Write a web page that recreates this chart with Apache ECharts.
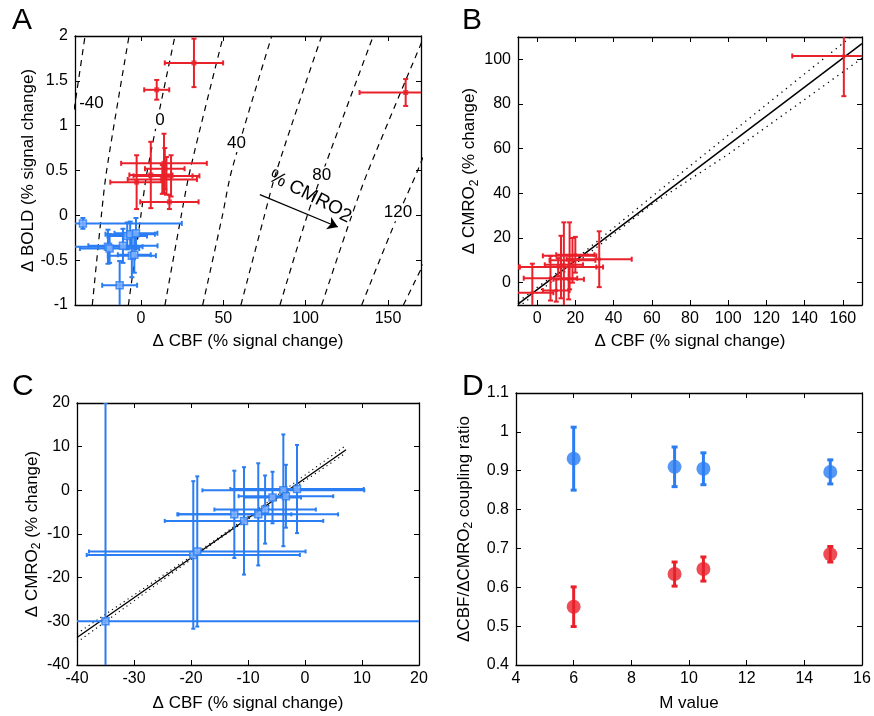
<!DOCTYPE html>
<html>
<head>
<meta charset="utf-8">
<script src="https://cdn.jsdelivr.net/npm/echarts@6/dist/echarts.min.js"></script>
<style>
  html, body { margin: 0; padding: 0; background: #fff; }
  #chart { width: 874px; height: 716px; }
</style>
</head>
<body>
<div id="chart"></div>
<script>
// ---- panel A: [dCBF, dBOLD, cbfErr, boldErr]
const aRed = [
  [32.2, 1.70, 17.7, 0.27],
  [9.6, 1.40, 7.6, 0.11],
  [160.7, 1.37, 28, 0.15],
  [-2.6, 0.37, 16, 0.30],
  [6.0, 0.45, 13, 0.37],
  [14.0, 0.58, 26, 0.33],
  [14.5, 0.52, 12, 0.23],
  [15.5, 0.44, 20, 0.21],
  [18.3, 0.44, 13, 0.23],
  [17.3, 0.15, 17.7, 0.08],
  [13.0, 0.40, 21, 0.16]
];
const aBlue = [
  [-35.2, -0.09, 60, 0.06],
  [-20.0, -0.35, 21, 0.19],
  [-19.0, -0.37, 18, 0.16],
  [-12.9, -0.78, 10.6, 0.27],
  [-10.9, -0.34, 21, 0.19],
  [-8.3, -0.23, 12, 0.15],
  [-6.5, -0.21, 15, 0.14],
  [-3.0, -0.20, 13, 0.17],
  [-5.5, -0.45, 14.6, 0.24],
  [-4.0, -0.44, 10, 0.20]
];
// iso-CMRO2 dashed lines (-40 .. 140 in steps of 20)
const aContours = [
  [[-60, -1], [-50, 0], [-46, 0.5], [-33.9, 2]],
  [[-29.5, -1], [-24, 0], [-20.8, 0.5], [-7.2, 2]],
  [[-7.6, -1], [0, 0], [3.9, 0.5], [20.7, 2]],
  [[14.6, -1], [24.5, 0], [29.8, 0.5], [50, 2]],
  [[37.5, -1], [49.5, 0], [55.1, 0.5], [79.4, 2]],
  [[60.7, -1], [75, 0], [82.4, 0.5], [109.7, 2]],
  [[84.4, -1], [101, 0], [110.7, 0.5], [141, 2]],
  [[109.7, -1], [128, 0], [138, 0.5], [172, 2]],
  [[134, -1], [156, 0], [168, 0.5], [200, 2]],
  [[159.3, -1], [186, 0], [199, 0.5], [232, 2]]
];
const aContourLabels = [[-30, 1.25, '-40'], [11.6, 1.06, '0'], [58, 0.80, '40'], [109.7, 0.45, '80'], [156, 0.03, '120']];
const aArrow = [[72.2, 0.23], [119.5, -0.13]];
const aArrowText = [[103, 0.22, '{n|% CMRO}{s|2}']];

// ---- panel B: [dCBF, dCMRO2, cbfErr, cmroErr]
const bRed = [
  [160.5, 101.5, 27, 18],
  [-2.5, -4.5, 11, 13],
  [7.0, 2.0, 14, 10],
  [10.0, -3.5, 7, 5],
  [12.5, 7.0, 22, 14],
  [14.0, 8.0, 10, 19],
  [16.5, 1.5, 8, 9],
  [17.0, 12.0, 14, 15],
  [18.5, 10.0, 12, 10],
  [20.0, 12.5, 10, 8],
  [32.5, 10.5, 17, 12.5],
  [11.0, 7.0, 20, 4]
];
const bFit = [[-10, -9.6], [170, 107]];
const bUpper = [[-10, -8.5], [20, 10.5], [60, 38.5], [100, 66], [140, 93.5], [170, 114]];
const bLower = [[-10, -11], [20, 8.4], [60, 35], [100, 57.5], [140, 82], [170, 100.5]];

// ---- panel C
const cBlue = [
  [-35, -30, 60, 50],
  [-19.6, -14.8, 18.7, 16.9],
  [-18.9, -14.0, 19, 17.2],
  [-12.4, -5.5, 10, 10],
  [-10.7, -7.0, 13.9, 12.3],
  [-8.2, -5.5, 14, 11.7],
  [-7.0, -4.4, 8.9, 7.8],
  [-5.7, -1.65, 5, 5.9],
  [-3.8, 0.0, 14.2, 12.8],
  [-3.35, -1.35, 8.3, 7.2],
  [-1.4, 0.3, 11.7, 10.1]
];
const cFit = [[-40, -33.7], [7.2, 9.3]];
const cUpper = [[-40, -32.8], [-15, -10.7], [7.2, 10.3]];
const cLower = [[-40, -34.8], [-15, -11.1], [7.2, 8.6]];

// ---- panel D
const dM = [6, 9.5, 10.5, 14.9];
const dBlue = [0.931, 0.910, 0.905, 0.897];
const dBlueErr = [0.081, 0.051, 0.041, 0.031];
const dRed = [0.550, 0.634, 0.647, 0.685];
const dRedErr = [0.051, 0.031, 0.031, 0.020];

const RED = '#e8212b';
const BLUE = '#2a7df2';
const FONT = "'Liberation Sans', Arial, sans-serif";

const rich = {
  n: { fontSize: 17, fontFamily: FONT, color: '#000', lineHeight: 22 },
  s: { fontSize: 12, fontFamily: FONT, color: '#000', lineHeight: 12, verticalAlign: 'bottom' }
};

function axes(kind, grid, o) {
  const tick = { inside: true, length: 5, lineStyle: { color: '#000', width: 1 } };
  const lab = { color: '#000', fontSize: 16, fontFamily: FONT, margin: kind === 'x' ? 6 : 7 };
  if (o.custom) { tick.customValues = o.custom; lab.customValues = o.custom; }
  const base = {
    type: 'value', gridIndex: grid, min: o.min, max: o.max,
    axisLine: { show: true, onZero: false, lineStyle: { color: '#000', width: 1.3 } },
    splitLine: { show: false }
  };
  if (o.interval) base.interval = o.interval;
  const main = Object.assign({}, base, {
    position: kind === 'x' ? 'bottom' : 'left',
    axisTick: tick, axisLabel: lab,
    name: o.name, nameLocation: 'middle', nameGap: o.gap,
    nameTextStyle: { fontSize: 17, fontFamily: FONT, color: '#000', rich: rich }
  });
  const other = Object.assign({}, base, {
    position: kind === 'x' ? 'top' : 'right',
    axisTick: tick, axisLabel: { show: false, customValues: o.custom }
  });
  return [main, other];
}

function errBars(color, lw, cap) {
  return function (params, api) {
    const x = api.value(0), y = api.value(1), ex = api.value(2), ey = api.value(3);
    const st = { stroke: color, lineWidth: lw };
    const kids = [];
    if (ex > 0) {
      const a = api.coord([x - ex, y]), b = api.coord([x + ex, y]);
      kids.push({ type: 'line', shape: { x1: a[0], y1: a[1], x2: b[0], y2: b[1] }, style: st });
      kids.push({ type: 'line', shape: { x1: a[0], y1: a[1] - cap, x2: a[0], y2: a[1] + cap }, style: st });
      kids.push({ type: 'line', shape: { x1: b[0], y1: b[1] - cap, x2: b[0], y2: b[1] + cap }, style: st });
    }
    if (ey > 0) {
      const t = api.coord([x, y + ey]), b = api.coord([x, y - ey]);
      kids.push({ type: 'line', shape: { x1: t[0], y1: t[1], x2: b[0], y2: b[1] }, style: st });
      kids.push({ type: 'line', shape: { x1: t[0] - cap, y1: t[1], x2: t[0] + cap, y2: t[1] }, style: st });
      kids.push({ type: 'line', shape: { x1: b[0] - cap, y1: b[1], x2: b[0] + cap, y2: b[1] }, style: st });
    }
    return { type: 'group', children: kids };
  };
}

function errSeries(idx, data, color, lw, cap) {
  return {
    type: 'custom', xAxisIndex: idx, yAxisIndex: idx, data: data, clip: true,
    encode: { x: 0, y: 1 }, renderItem: errBars(color, lw, cap), silent: true, z: 3
  };
}

// text placed at data coordinates: [x, y, text]
function textSeries(idx, data, size, rotation, bg) {
  return {
    type: 'custom', xAxisIndex: idx, yAxisIndex: idx, data: data, clip: false, silent: true, z: 4,
    encode: { x: 0, y: 1 },
    renderItem: function (params, api) {
      const c = api.coord([api.value(0), api.value(1)]);
      return {
        type: 'text', x: c[0], y: c[1], rotation: rotation,
        style: {
          text: data[params.dataIndex][2], fill: '#000', fontSize: size, fontFamily: FONT,
          align: 'center', verticalAlign: 'middle',
          backgroundColor: bg ? '#fff' : null, padding: bg ? [0, 2] : 0,
          rich: {
            n: { fontSize: size, fontFamily: FONT, fill: '#000', lineHeight: 24 },
            s: { fontSize: size, fontFamily: FONT, fill: '#000', lineHeight: 10, verticalAlign: 'bottom' }
          }
        }
      };
    }
  };
}

function lineSeries(idx, data, style, smooth) {
  return {
    type: 'line', xAxisIndex: idx, yAxisIndex: idx, data: data, showSymbol: false,
    smooth: smooth || false, clip: true, silent: true, lineStyle: style, z: 2
  };
}

const aX = axes('x', 0, { min: -40, max: 170, custom: [0, 50, 100, 150], name: 'Δ CBF (% signal change)', gap: 28 });
const aY = axes('y', 0, { min: -1, max: 2, interval: 0.5, name: 'Δ BOLD (% signal change)', gap: 31 });
const bX = axes('x', 1, { min: -10, max: 170, custom: [0, 20, 40, 60, 80, 100, 120, 140, 160], name: 'Δ CBF (% signal change)', gap: 28 });
const bY = axes('y', 1, { min: -10, max: 110, custom: [0, 20, 40, 60, 80, 100], name: '{n|Δ CMRO}{s|2}{n| (% change)}', gap: 36 });
const cX = axes('x', 2, { min: -40, max: 20, interval: 10, name: 'Δ CBF (% signal change)', gap: 30 });
const cY = axes('y', 2, { min: -40, max: 20, interval: 10, name: '{n|Δ CMRO}{s|2}{n| (% change)}', gap: 30 });
const dX = axes('x', 3, { min: 4, max: 16, interval: 2, name: 'M value', gap: 30 });
const dY = axes('y', 3, { min: 0.4, max: 1.1, interval: 0.1, name: '{n|ΔCBF/ΔCMRO}{s|2}{n| coupling ratio}', gap: 41 });

const series = [];
// A
aContours.forEach(function (c) {
  series.push(lineSeries(0, c, { color: '#000', width: 1.2, type: [6, 5] }, 0.3));
});
series.push(textSeries(0, aContourLabels, 17, 0, true));
series.push({
  type: 'line', xAxisIndex: 0, yAxisIndex: 0, data: [], silent: true,
  markLine: {
    silent: true, symbol: ['none', 'arrow'], symbolSize: 10, label: { show: false },
    lineStyle: { color: '#000', width: 1.3, type: 'solid' },
    data: [[{ coord: aArrow[0] }, { coord: aArrow[1] }]]
  }
});
series.push(textSeries(0, aArrowText, 19, -0.47, false));
series.push(errSeries(0, aRed, RED, 2, 2.5));
series.push(errSeries(0, aBlue, BLUE, 2, 2.5));
series.push({ type: 'scatter', xAxisIndex: 0, yAxisIndex: 0, data: aRed, symbol: 'rect', symbolSize: 5,
  itemStyle: { color: RED }, z: 5, silent: true });
series.push({ type: 'scatter', xAxisIndex: 0, yAxisIndex: 0, data: aBlue, symbol: 'rect', symbolSize: 7,
  itemStyle: { color: '#7fb2ff', borderColor: BLUE, borderWidth: 1.5 }, z: 5, silent: true });
// B
series.push(lineSeries(1, bUpper, { color: '#000', width: 1.3, type: [1.3, 4.5] }));
series.push(lineSeries(1, bLower, { color: '#000', width: 1.3, type: [1.3, 4.5] }));
series.push(lineSeries(1, bFit, { color: '#000', width: 1.5, type: 'solid' }));
series.push(errSeries(1, bRed, RED, 2, 2.5));
series.push({ type: 'scatter', xAxisIndex: 1, yAxisIndex: 1, data: bRed, symbolSize: 4,
  itemStyle: { color: RED }, z: 5, silent: true });
// C
series.push(errSeries(2, cBlue, BLUE, 2, 2));
series.push(lineSeries(2, cUpper, { color: '#000', width: 1.1, type: [1.2, 3.5] }));
series.push(lineSeries(2, cLower, { color: '#000', width: 1.1, type: [1.2, 3.5] }));
series.push(lineSeries(2, cFit, { color: '#000', width: 1.4, type: 'solid' }));
series.push({ type: 'scatter', xAxisIndex: 2, yAxisIndex: 2, data: cBlue, symbol: 'rect', symbolSize: 7,
  itemStyle: { color: '#7fb2ff', borderColor: BLUE, borderWidth: 1.5 }, z: 5, silent: true });
// D
const dBlueData = dM.map(function (m, i) { return [m, dBlue[i], 0, dBlueErr[i]]; });
const dRedData = dM.map(function (m, i) { return [m, dRed[i], 0, dRedErr[i]]; });
series.push(errSeries(3, dBlueData, BLUE, 3, 3));
series.push(errSeries(3, dRedData, RED, 3, 3));
series.push({ type: 'scatter', xAxisIndex: 3, yAxisIndex: 3, data: dBlueData, symbolSize: 14,
  itemStyle: { color: BLUE }, z: 5, silent: true });
series.push({ type: 'scatter', xAxisIndex: 3, yAxisIndex: 3, data: dRedData, symbolSize: 14,
  itemStyle: { color: RED }, z: 5, silent: true });

function letter(t, x, y) {
  return { type: 'text', left: x, top: y,
    style: { text: t, fontSize: 30, fontFamily: "'Liberation Sans Narrow', 'Liberation Sans', Arial", fill: '#000' } };
}

const option = {
  backgroundColor: '#fff',
  animation: false,
  grid: [
    { left: 75, top: 36, width: 346, height: 269 },
    { left: 518, top: 37, width: 344, height: 268 },
    { left: 77, top: 403, width: 342, height: 262 },
    { left: 516, top: 393, width: 346, height: 272 }
  ],
  xAxis: [aX[0], aX[1], bX[0], bX[1], cX[0], cX[1], dX[0], dX[1]],
  yAxis: [aY[0], aY[1], bY[0], bY[1], cY[0], cY[1], dY[0], dY[1]],
  graphic: [letter('A', 12, 6), letter('B', 462, 6), letter('C', 12, 372), letter('D', 462, 372)],
  series: series
};
// main axes at even indexes, box axes at odd ones; series use the main ones
series.forEach(function (s) { s.xAxisIndex *= 2; s.yAxisIndex *= 2; });

const chart = echarts.init(document.getElementById('chart'));
chart.setOption(option);
</script>
</body>
</html>
